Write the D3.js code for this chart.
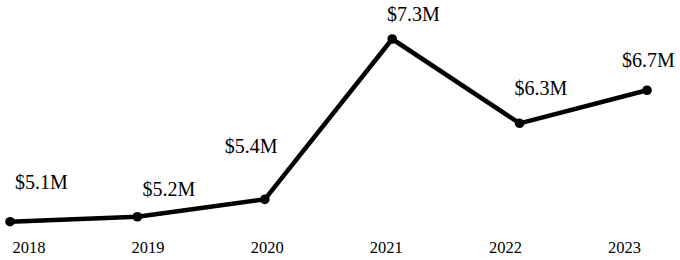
<!DOCTYPE html>
<html>
<head>
<meta charset="utf-8">
<script src="https://cdn.jsdelivr.net/npm/d3@7"></script>
<style>
  html, body { margin: 0; padding: 0; background: #fff; }
  svg { display: block; }
</style>
</head>
<body>
<svg id="chart" width="680" height="260"></svg>
<script>
// ---- data ----
const years = ["2018", "2019", "2020", "2021", "2022", "2023"];
const revenue = [5.09, 5.15, 5.36, 7.30, 6.28, 6.68]; // $ millions
// label placement offsets (layout, relative to each point)
const labelDx = [31.5, 31.5, -13.7, 21.3, 21.3, 1.3];
const labelDy = [-32.5, -21, -46, -18, -28, -23];

const W = 680, H = 260;
const svg = d3.select("#chart");
const font = "'Liberation Serif', serif";

const x = d3.scalePoint().domain(years).range([10, 647]);
const xAxisScale = d3.scalePoint().domain(years).range([28.5, 624]);
const y = d3.scaleLinear()
  .domain([d3.min(revenue), d3.max(revenue)])
  .range([221.7, 39]);

const data = years.map((yr, i) => ({ yr, v: revenue[i], dx: labelDx[i], dy: labelDy[i] }));

// axis
const axis = svg.append("g")
  .attr("transform", `translate(0,${252.5})`)
  .call(d3.axisBottom(xAxisScale).tickSize(0).tickPadding(0));
axis.select(".domain").remove();
axis.selectAll("text")
  .attr("font-family", font)
  .attr("font-size", 16.5)
  .attr("fill", "#000")
  .attr("dy", "0");

// line
svg.append("path")
  .datum(data)
  .attr("fill", "none")
  .attr("stroke", "#000")
  .attr("stroke-width", 4.5)
  .attr("stroke-linejoin", "round")
  .attr("d", d3.line().x(d => x(d.yr)).y(d => y(d.v)));

// dots
svg.selectAll("circle.pt")
  .data(data)
  .join("circle")
  .attr("class", "pt")
  .attr("cx", d => x(d.yr))
  .attr("cy", d => y(d.v))
  .attr("r", 4.8)
  .attr("fill", "#000");

// value labels
const fmt = d3.format(".1f");
svg.selectAll("text.lbl")
  .data(data)
  .join("text")
  .attr("class", "lbl")
  .attr("x", d => x(d.yr) + d.dx)
  .attr("y", d => y(d.v) + d.dy)
  .attr("text-anchor", "middle")
  .attr("font-family", font)
  .attr("font-size", 20)
  .attr("fill", "#000")
  .text(d => `$${fmt(d.v)}M`);
</script>
</body>
</html>
